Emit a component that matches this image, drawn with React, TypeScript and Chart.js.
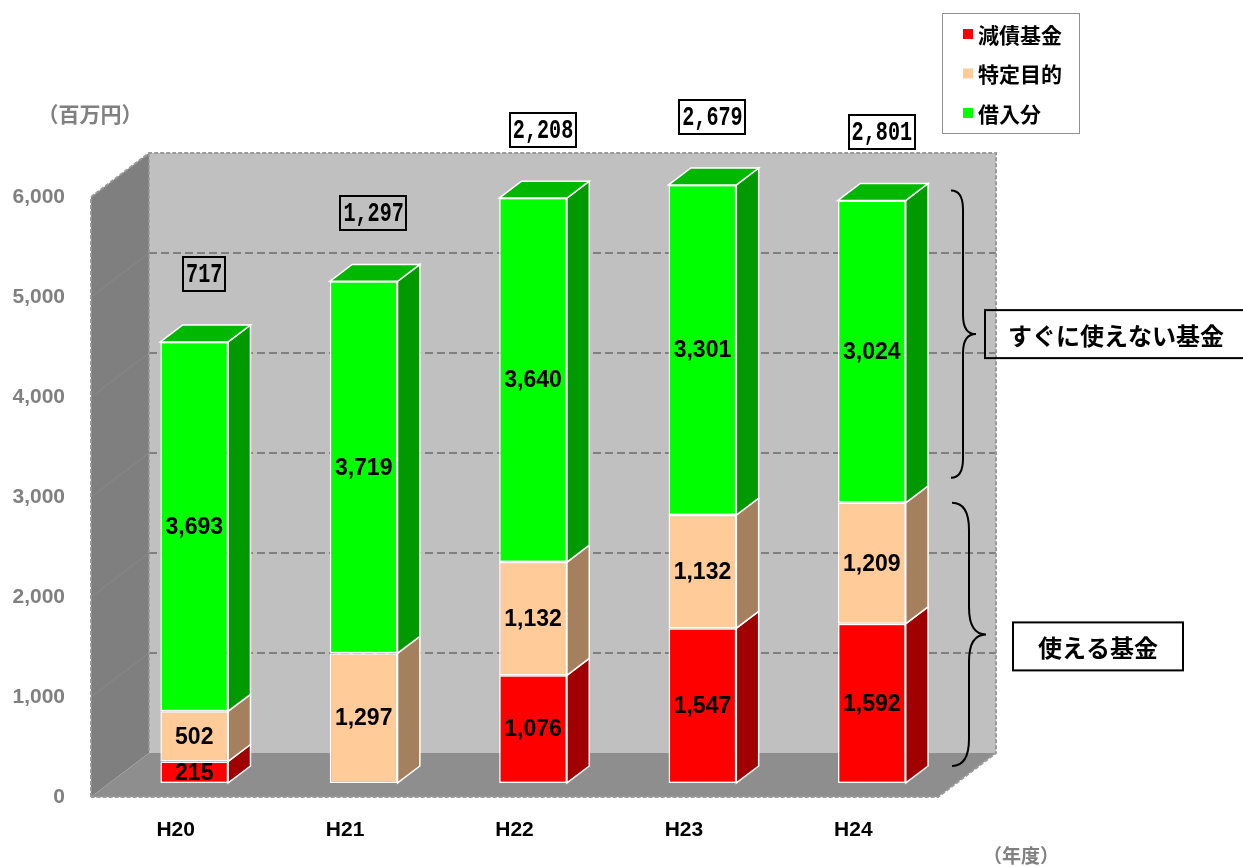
import React, { useEffect, useRef } from "react";
import { Chart, registerables } from "chart.js";

Chart.register(...registerables);

// ---- data ----
const categories = ["H20", "H21", "H22", "H23", "H24"];
const seriesNames = ["減債基金", "特定目的", "借入分"];
const debtReductionValues = [215, 0, 1076, 1547, 1592];
const specificPurposeValues = [502, 1297, 1132, 1132, 1209];
const borrowedValues = [3693, 3719, 3640, 3301, 3024];
const usableTotalLabels = ["717", "1,297", "2,208", "2,679", "2,801"];
const yMin = 0;
const yMax = 6000;
const yStep = 1000;
const yAxisTitle = "（百万円）";
const xAxisTitle = "（年度）";
const upperBraceLabel = "すぐに使えない基金";
const lowerBraceLabel = "使える基金";

// ---- styles ----
const frontColors = ["#FF0000", "#FFCC99", "#00FF00"];
const sideColors = ["#A00000", "#A5805F", "#009900"];
const topColors = ["#C00000", "#C8A07A", "#00B800"];
const NUM_FONT = "'Liberation Sans', Arial, sans-serif";
const JP_FONT = "'Noto Sans CJK JP', 'Noto Sans', sans-serif";

const DX = 58;
const DY = -44;
const F0 = 0.32;
const F1 = 0.705;

function poly(ctx: CanvasRenderingContext2D, pts: number[][], fill?: string, stroke?: string, lw = 1) {
  ctx.beginPath();
  ctx.moveTo(pts[0][0], pts[0][1]);
  for (let i = 1; i < pts.length; i++) ctx.lineTo(pts[i][0], pts[i][1]);
  ctx.closePath();
  if (fill) {
    ctx.fillStyle = fill;
    ctx.fill();
  }
  if (stroke) {
    ctx.strokeStyle = stroke;
    ctx.lineWidth = lw;
    ctx.stroke();
  }
}

function line(ctx: CanvasRenderingContext2D, x1: number, y1: number, x2: number, y2: number) {
  ctx.beginPath();
  ctx.moveTo(x1, y1);
  ctx.lineTo(x2, y2);
  ctx.stroke();
}

function brace(ctx: CanvasRenderingContext2D, x0: number, xs: number, xt: number, yTop: number, yBot: number) {
  const ym = (yTop + yBot) / 2;
  const r = (xs - x0) * 1.6;
  ctx.beginPath();
  ctx.moveTo(x0, yTop);
  ctx.quadraticCurveTo(xs, yTop, xs, yTop + r);
  ctx.lineTo(xs, ym - r);
  ctx.quadraticCurveTo(xs, ym, xt, ym);
  ctx.quadraticCurveTo(xs, ym, xs, ym + r);
  ctx.lineTo(xs, yBot - r);
  ctx.quadraticCurveTo(xs, yBot, x0, yBot);
  ctx.stroke();
}

function segInfo(chart: any, d: number, i: number) {
  const el = chart.getDatasetMeta(d).data[i];
  return el.getProps(["x", "y", "base", "width"], true);
}

const box3d = {
  id: "box3d",
  beforeDraw(chart: any) {
    const { ctx, chartArea: a, scales } = chart;
    const ys = scales.y;
    ctx.save();
    ctx.fillStyle = "#C0C0C0";
    ctx.fillRect(a.left + DX, a.top + DY, a.right - a.left, a.bottom - a.top);
    poly(ctx, [[a.left, a.top], [a.left + DX, a.top + DY], [a.left + DX, a.bottom + DY], [a.left, a.bottom]], "#7F7F7F");
    poly(ctx, [[a.left, a.bottom], [a.left + DX, a.bottom + DY], [a.right + DX, a.bottom + DY], [a.right, a.bottom]], "#8E8E8E");
    ys.ticks.forEach((t: any) => {
      if (t.value <= ys.min || t.value >= ys.max) return;
      const py = ys.getPixelForValue(t.value);
      ctx.setLineDash([8, 4]);
      ctx.strokeStyle = "#808080";
      ctx.lineWidth = 2;
      line(ctx, a.left + DX, py + DY, a.right + DX, py + DY);
      ctx.setLineDash([]);
      ctx.strokeStyle = "#898989";
      ctx.lineWidth = 1;
      line(ctx, a.left, py, a.left + DX, py + DY);
    });
    ctx.setLineDash([4, 2]);
    ctx.lineWidth = 2;
    ctx.strokeStyle = "#9A9A9A";
    ctx.beginPath();
    ctx.moveTo(a.left, a.bottom);
    ctx.lineTo(a.left, a.top);
    ctx.lineTo(a.left + DX, a.top + DY);
    ctx.lineTo(a.right + DX, a.top + DY);
    ctx.lineTo(a.right + DX, a.bottom + DY);
    ctx.lineTo(a.right, a.bottom);
    ctx.lineTo(a.left, a.bottom);
    ctx.stroke();
    ctx.lineWidth = 1.5;
    line(ctx, a.left + DX, a.top + DY, a.left + DX, a.bottom + DY);
    ctx.setLineDash([]);
    ctx.restore();
  },
  beforeDatasetsDraw(chart: any) {
    chart.ctx.save();
    chart.ctx.translate(F0 * DX, F0 * DY);
  },
  afterDatasetsDraw(chart: any) {
    const ctx: CanvasRenderingContext2D = chart.ctx;
    const sdx = (F1 - F0) * DX;
    const sdy = (F1 - F0) * DY;
    const nds = chart.data.datasets.length;
    for (let i = 0; i < categories.length; i++) {
      let top: any = null;
      let topD = -1;
      for (let d = 0; d < nds; d++) {
        const v = chart.data.datasets[d].data[i];
        if (!v) continue;
        const p = segInfo(chart, d, i);
        const l = p.x - p.width / 2;
        const r = p.x + p.width / 2;
        poly(ctx, [[r, p.y], [r + sdx, p.y + sdy], [r + sdx, p.base + sdy], [r, p.base]], sideColors[d], "#FFFFFF", 1.5);
        top = { l, r, y: p.y };
        topD = d;
      }
      if (top) {
        poly(ctx, [[top.l, top.y], [top.l + sdx, top.y + sdy], [top.r + sdx, top.y + sdy], [top.r, top.y]], topColors[topD], "#FFFFFF", 1.5);
      }
    }
    ctx.fillStyle = "#000000";
    ctx.font = `bold 23px ${NUM_FONT}`;
    ctx.textAlign = "center";
    ctx.textBaseline = "middle";
    for (let d = 0; d < nds; d++) {
      for (let i = 0; i < categories.length; i++) {
        const v = chart.data.datasets[d].data[i];
        if (!v) continue;
        const p = segInfo(chart, d, i);
        ctx.fillText(v.toLocaleString("en-US"), p.x, (p.y + p.base) / 2 + 1);
      }
    }
    ctx.restore();
  },
  afterDraw(chart: any) {
    const ctx: CanvasRenderingContext2D = chart.ctx;
    const a = chart.chartArea;
    const nds = chart.data.datasets.length;
    const offX = F0 * DX;
    const offY = F0 * DY;
    const sdy = (F1 - F0) * DY;
    ctx.save();

    // totals boxes above bars
    for (let i = 0; i < categories.length; i++) {
      let topY = Infinity;
      let cx = 0;
      for (let d = 0; d < nds; d++) {
        const p = segInfo(chart, d, i);
        if (chart.data.datasets[d].data[i]) topY = Math.min(topY, p.y);
        cx = p.x;
      }
      const bx = cx + offX + 10;
      const by = topY + offY - 68;
      const txt = usableTotalLabels[i];
      ctx.save();
      ctx.font = `bold 28px 'Liberation Mono', 'DejaVu Sans Mono', monospace`;
      const sx = 0.72;
      const w = ctx.measureText(txt).width * sx;
      ctx.strokeStyle = "#000000";
      ctx.lineWidth = 2;
      ctx.strokeRect(Math.round(bx - w / 2 - 3), Math.round(by - 17), Math.round(w + 6), 34);
      ctx.translate(bx, by + 1);
      ctx.scale(sx, 1);
      ctx.fillStyle = "#000000";
      ctx.textAlign = "center";
      ctx.textBaseline = "middle";
      ctx.fillText(txt, 0, 0);
      ctx.restore();
    }

    // legend
    const lgX = 942, lgY = 13, lgW = 137, lgH = 120;
    ctx.setLineDash([1, 1]);
    ctx.strokeStyle = "#202020";
    ctx.lineWidth = 1;
    ctx.strokeRect(lgX + 0.5, lgY + 0.5, lgW, lgH);
    ctx.setLineDash([]);
    ctx.textAlign = "left";
    ctx.textBaseline = "middle";
    ctx.font = `bold 21px ${JP_FONT}`;
    for (let d = 0; d < nds; d++) {
      const cy = 34 + d * 39.5;
      ctx.fillStyle = frontColors[d];
      ctx.fillRect(963, cy - 5, 10, 10);
      ctx.fillStyle = "#000000";
      ctx.fillText(chart.data.datasets[d].label, 978, cy + 1);
    }

    // axis titles
    ctx.fillStyle = "#808080";
    ctx.font = `bold 21px ${JP_FONT}`;
    ctx.textAlign = "center";
    ctx.fillText(yAxisTitle, 90, 114);
    ctx.font = `bold 19px ${JP_FONT}`;
    ctx.fillText(xAxisTitle, 1021, 856);

    // braces anchored on the last category's bar
    const last = categories.length - 1;
    const pBottom = segInfo(chart, 0, last);
    const pMid = segInfo(chart, 1, last);
    const pTop = segInfo(chart, 2, last);
    const usableTop = pMid.y + offY;
    const barTop = pTop.y + offY;
    const barBottomBack = pBottom.base + offY + sdy;
    ctx.strokeStyle = "#000000";
    ctx.lineWidth = 2;
    const uTop = barTop - 10;
    const uBot = usableTop - 25;
    brace(ctx, a.right + 13, a.right + 25, a.right + 38, uTop, uBot);
    brace(ctx, a.right + 14, a.right + 31, a.right + 48, usableTop, barBottomBack);

    const uMid = (uTop + uBot) / 2;
    const lMid = (usableTop + barBottomBack) / 2;
    ctx.lineWidth = 2;
    ctx.strokeStyle = "#000000";
    ctx.strokeRect(a.right + 47, uMid - 24, 320, 48);
    ctx.strokeRect(a.right + 75, lMid - 12, 170, 48);
    ctx.fillStyle = "#000000";
    ctx.font = `bold 24px ${JP_FONT}`;
    ctx.textAlign = "left";
    ctx.fillText(upperBraceLabel, a.right + 70, uMid + 2);
    ctx.textAlign = "center";
    ctx.fillText(lowerBraceLabel, a.right + 75 + 85, lMid + 13);

    ctx.restore();
  },
};

export default function App() {
  const ref = useRef<HTMLCanvasElement | null>(null);
  useEffect(() => {
    if (!ref.current) return;
    const values = [debtReductionValues, specificPurposeValues, borrowedValues];
    const chart = new Chart(ref.current, {
      type: "bar",
      data: {
        labels: categories,
        datasets: values.map((v, d) => ({
          label: seriesNames[d],
          data: v,
          backgroundColor: frontColors[d],
          borderColor: "#FFFFFF",
          borderWidth: 1.5,
          borderSkipped: false,
          categoryPercentage: 1,
          barPercentage: 0.4,
          clip: false as any,
        })),
      },
      options: {
        responsive: false,
        animation: false,
        events: [],
        layout: { padding: { left: 0, right: 305, top: 197, bottom: 0 } },
        plugins: { legend: { display: false }, tooltip: { enabled: false } },
        scales: {
          x: {
            stacked: true,
            grid: { display: false, drawTicks: false },
            border: { display: false },
            ticks: {
              padding: 21,
              color: "#000000",
              font: { family: NUM_FONT, size: 21, weight: "bold" },
            },
            afterFit: (s: any) => {
              s.height = 69;
            },
          },
          y: {
            stacked: true,
            min: yMin,
            max: yMax,
            grid: { display: false, drawTicks: false },
            border: { display: false },
            ticks: {
              stepSize: yStep,
              padding: 26,
              color: "#808080",
              font: { family: NUM_FONT, size: 21, weight: "bold" },
              callback: (v: any) => Number(v).toLocaleString("en-US"),
            },
            afterFit: (s: any) => {
              s.width = 91;
            },
          },
        },
      },
      plugins: [box3d],
    });
    return () => chart.destroy();
  }, []);
  return (
    <div style={{ position: "absolute", left: 0, top: 0, width: 1243, height: 866, background: "#FFFFFF" }}>
      <canvas ref={ref} width={1243} height={866} />
    </div>
  );
}
